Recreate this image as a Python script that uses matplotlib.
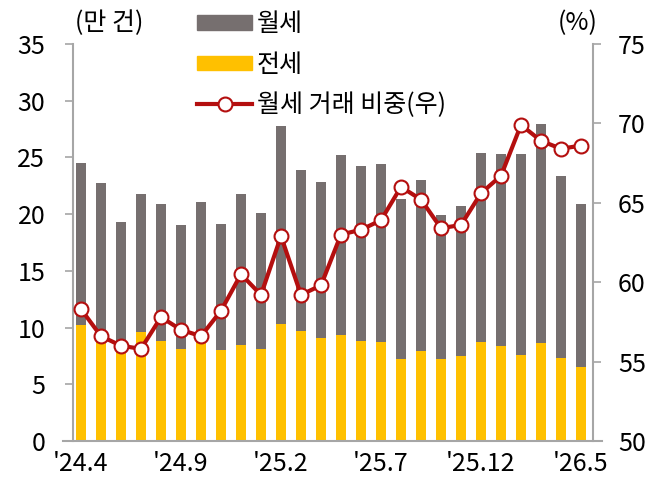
import numpy as np
import matplotlib
matplotlib.use('Agg')
import matplotlib.pyplot as plt
from matplotlib.lines import Line2D
from matplotlib.patches import Patch

plt.rcParams['font.family'] = ['Noto Sans CJK KR', 'DejaVu Sans']

# data (만 건, %)
months = ["'24.4", "'24.5", "'24.6", "'24.7", "'24.8", "'24.9", "'24.10", "'24.11", "'24.12",
          "'25.1", "'25.2", "'25.3", "'25.4", "'25.5", "'25.6", "'25.7", "'25.8", "'25.9",
          "'25.10", "'25.11", "'25.12", "'26.1", "'26.2", "'26.3", "'26.4", "'26.5"]
total = [24.5, 22.7, 19.3, 21.8, 20.9, 19.0, 21.1, 19.1, 21.8, 20.1, 27.8, 23.9, 22.8,
         25.2, 24.2, 24.4, 21.3, 23.0, 19.9, 20.7, 25.4, 25.3, 25.3, 27.9, 23.4, 20.9]
jeonse = [10.2, 8.8, 8.3, 9.6, 8.8, 8.1, 8.9, 8.0, 8.5, 8.1, 10.3, 9.7, 9.1,
          9.3, 8.8, 8.7, 7.2, 7.9, 7.2, 7.5, 8.7, 8.4, 7.6, 8.6, 7.3, 6.5]
wolse = [t - j for t, j in zip(total, jeonse)]
ratio = [58.3, 56.6, 56.0, 55.8, 57.8, 57.0, 56.6, 58.2, 60.5, 59.2, 62.9, 59.2, 59.8,
         63.0, 63.3, 63.9, 66.0, 65.2, 63.4, 63.6, 65.6, 66.7, 69.9, 68.9, 68.4, 68.6]
tick_idx = [0, 5, 10, 15, 20, 25]

gray = '#766f6f'
yellow = '#ffc000'
red = '#b40f0f'
spine_c = '#a6a6a6'
fs = 18

ind = np.arange(len(months))
width = 0.5

fig = plt.figure(figsize=(6.63, 4.86), dpi=100)
ax = fig.add_axes([0.095, 0.0926, 0.813, 0.817])
ax.bar(ind, jeonse, width, color=yellow, zorder=2)
ax.bar(ind, wolse, width, bottom=jeonse, color=gray, zorder=2)
ax.set_xlim(-0.9, 26.05)
ax.set_ylim(0, 35)
ax.set_yticks(np.arange(0, 36, 5))
ax.set_xticks(ind[tick_idx])
ax.set_xticklabels([months[i] for i in tick_idx])

ax2 = ax.twinx()
ax2.plot(ind, ratio, color=red, lw=3, marker='o', ms=10, mfc='white', mec=red, mew=1.5, zorder=3)
ax2.set_ylim(50, 75)
ax2.set_yticks(np.arange(50, 76, 5))

for a in (ax, ax2):
    for s in a.spines.values():
        s.set_color(spine_c)
        s.set_linewidth(1.5)
    a.spines['top'].set_visible(False)
ax.spines['right'].set_visible(False)
ax.spines['left'].set_position(('axes', 0.0186))
ax2.spines['left'].set_visible(False)
ax2.spines['bottom'].set_visible(False)
ax2.spines['right'].set_position(('axes', 0.983))

ax.tick_params(axis='y', length=6, width=1.2, color=spine_c, labelsize=fs, pad=14)
ax.tick_params(axis='x', length=0, labelsize=fs, pad=7)
ax2.tick_params(axis='y', length=6, width=1.2, color=spine_c, labelsize=fs, pad=12)

fig.text(0.113, 0.952, '(만 건)', fontsize=fs, ha='left', va='center')
fig.text(0.902, 0.952, '(%)', fontsize=fs, ha='right', va='center')

handles = [Patch(color=gray), Patch(color=yellow),
           Line2D([], [], color=red, lw=3, marker='o', ms=10, mfc='white', mec=red, mew=1.5)]
labels = ['월세', '전세', '월세 거래 비중(우)']
leg = fig.legend(handles, labels, loc='upper left', bbox_to_anchor=(0.267, 1.018),
                 frameon=False, fontsize=fs, handlelength=2.2, handleheight=0.5,
                 handletextpad=0.2, labelspacing=0.58, borderpad=0.3)

fig.savefig('out.png', dpi=100)
